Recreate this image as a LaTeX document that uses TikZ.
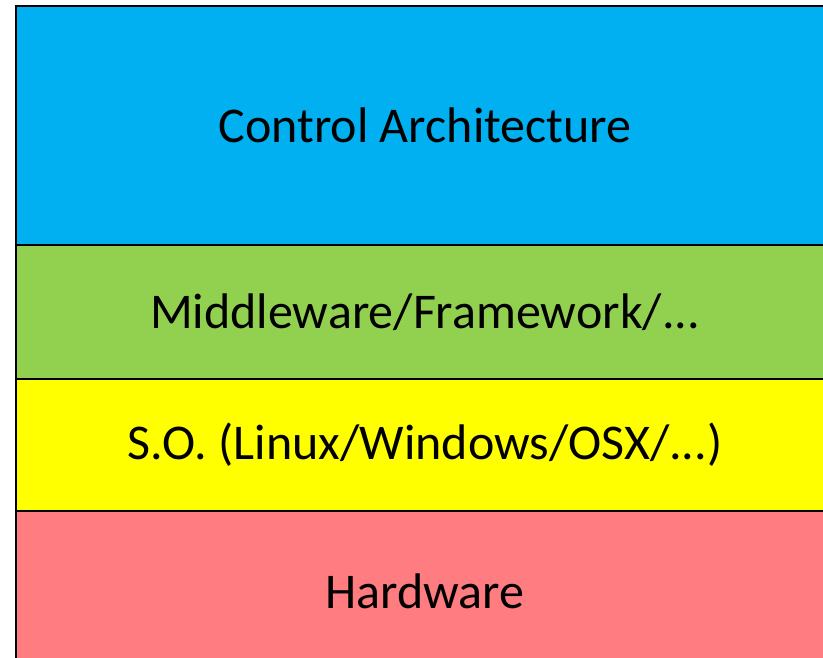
\documentclass[tikz,border=0pt]{standalone}
\usepackage{fontspec}
\setmainfont{Carlito}
\usetikzlibrary{positioning}

\definecolor{ctrlblue}{HTML}{00B0F0}
\definecolor{midgreen}{HTML}{92D050}
\definecolor{osyellow}{HTML}{FFFF00}
\definecolor{hwred}{HTML}{FF7C80}

\begin{document}
\begin{tikzpicture}[x=1pt,y=1pt,node distance=0pt,
   layer/.style={draw=black,line width=2.5pt,minimum width=818pt,inner sep=0pt,
                 outer sep=0pt,font=\fontsize{50}{58}\selectfont}]
   \useasboundingbox (0,0) rectangle (823,657);
   \node[layer,fill=ctrlblue,minimum height=239pt,anchor=north west] (ctrl) at (16,651) {Control Architecture};
   \node[layer,fill=midgreen,minimum height=134pt] (mid) [below=of ctrl] {Middleware/Framework/...};
   \node[layer,fill=osyellow,minimum height=132pt] (os) [below=of mid] {S.O. (Linux/Windows/OSX/...)};
   \node[layer,fill=hwred,minimum height=160pt] (hw) [below=of os] {Hardware};
\end{tikzpicture}
\end{document}
